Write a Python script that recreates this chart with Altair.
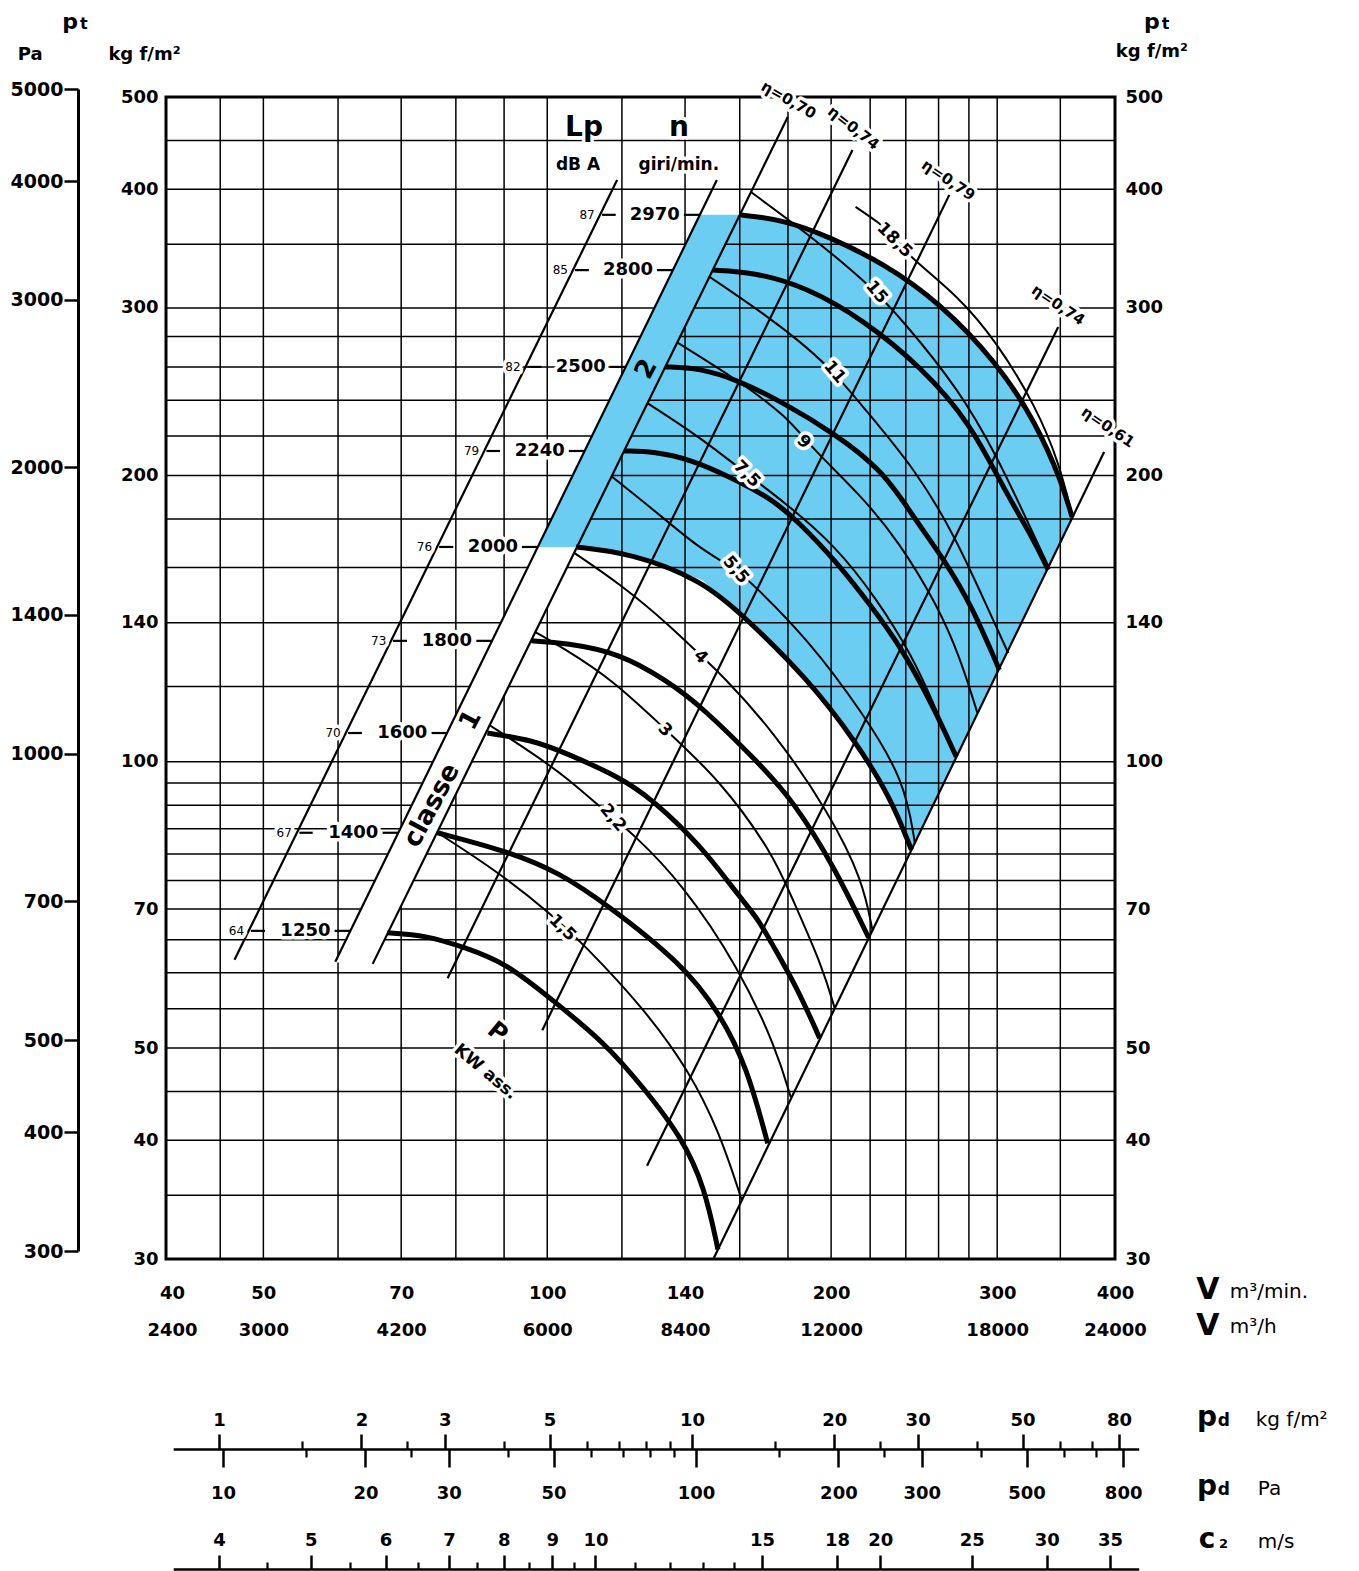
import altair as alt
import pandas as pd

FONT = "DejaVu Sans"
BLUE = "#6BCDF2"

# ---------------- scales / grid / tick values ----------------
V_DOMAIN = [39.42, 400.0]          # m3/min
P_DOMAIN = [30.0, 500.0]           # kgf/m2
V_GRID = [45, 50, 60, 70, 80, 90, 100, 120, 140, 160, 180, 200, 220, 240, 260, 280, 300, 350]
P_GRID = [35, 40, 45, 50, 55, 60, 65, 70, 75, 80, 85, 90, 95, 100, 120, 140, 160, 180,
          200, 220, 240, 260, 280, 300, 350, 400, 450]
V_TICKS = [40, 50, 70, 100, 140, 200, 300, 400]
P_TICKS = [30, 40, 50, 70, 100, 140, 200, 300, 400, 500]
PA_TICKS = [300, 400, 500, 700, 1000, 1400, 2000, 3000, 4000, 5000]
PA_DOMAIN = [300, 5000]
PD_DOMAIN = [0.8, 88.0]            # kgf/m2 dynamic pressure scale
PD_KGF_MAJOR = [1, 2, 3, 5, 10, 20, 30, 50, 80]
PD_KGF_MINOR = [1.5, 2.5, 4, 6, 7, 8, 9, 15, 25, 40, 60, 70]
PD_PA_MAJOR = [10, 20, 30, 50, 100, 200, 300, 500, 800]
PD_PA_MINOR = [15, 25, 40, 60, 70, 80, 90, 150, 250, 400, 600, 700]
C2_MAJOR = [4, 5, 6, 7, 8, 9, 10, 15, 18, 20, 25, 30, 35]
C2_MINOR = [4.5, 5.5, 6.5, 7.5, 8.5, 9.5, 11, 12, 13, 14]

# ---------------- speed curves (n, giri/min) ----------------
N1250_V = [67.7, 74.3, 81.7, 90.5, 101.2, 115.2, 126.3, 138.9, 146.9, 151.7]
N1250_P = [66.1, 65.7, 63.8, 61.4, 56.2, 50.6, 45.5, 40.3, 35.7, 30.7]
N1400_V = [76.5, 92.0, 103.0, 115.2, 138.9, 152.4, 162.8, 171.3]
N1400_P = [84.2, 80.2, 76.4, 71.0, 61.4, 54.4, 47.8, 39.7]
N1600_V = [86.4, 96.4, 104.7, 119.2, 128.8, 145.9, 157.0, 167.6, 172.2, 183.9, 194.5]
N1600_P = [107.2, 105.4, 102.1, 96.4, 91.6, 81.4, 73.8, 68.2, 64.9, 58.0, 51.2]
N1800_V = [96.2, 104.7, 119.2, 133.6, 145.9, 167.6, 182.1, 201.7, 219.2]
N1800_P = [134.0, 133.3, 130.1, 121.9, 114.2, 99.7, 91.1, 77.5, 65.3]
N2000_V = [107.3, 122.4, 145.9, 162.0, 189.3, 211.8, 231.2, 243.3]
N2000_P = [168.2, 165.8, 155.3, 142.0, 121.9, 105.4, 91.8, 80.8]
N2240_V = [120.6, 129.8, 142.4, 156.2, 171.7, 183.0, 203.2, 219.2, 237.4, 256.7, 271.5]
N2240_P = [212.2, 212.0, 207.7, 199.3, 189.8, 180.4, 161.8, 146.9, 132.0, 114.2, 101.2]
N2500_V = [133.3, 145.1, 159.2, 178.2, 201.2, 226.8, 245.7, 263.7, 282.4, 301.6]
N2500_P = [260.1, 259.4, 252.0, 238.4, 221.7, 202.7, 179.6, 163.0, 145.5, 124.9]
N2800_V = [149.8, 165.2, 188.4, 216.5, 249.3, 281.0, 305.3, 326.8, 339.8]
N2800_P = [328.8, 327.3, 315.6, 291.4, 260.1, 227.1, 193.1, 172.3, 159.1]
N2970_V = [160.0, 178.2, 199.2, 226.8, 261.1, 300.1, 330.0, 351.5, 360.2]
N2970_P = [375.9, 371.4, 356.4, 334.6, 303.7, 262.6, 227.1, 196.4, 180.8]

# ---------------- absorbed power curves (kW) ----------------
KW1_5_V = [76.5, 88.7, 101.2, 108.9, 126.3, 141.3, 152.4, 160.8]
KW1_5_P = [84.2, 76.6, 69.0, 64.5, 55.2, 47.4, 40.7, 34.6]
KW2_2_V = [86.8, 96.4, 104.7, 116.3, 123.0, 138.9, 159.6, 175.1, 181.2]
KW2_2_P = [109.3, 102.1, 96.4, 87.9, 84.2, 74.6, 60.8, 49.8, 44.4]
KW3_V = [97.1, 104.0, 117.4, 133.6, 152.4, 173.4, 182.1, 195.9, 201.7]
KW3_P = [136.9, 131.7, 121.9, 108.0, 95.7, 80.2, 71.6, 60.8, 55.1]
KW4_V = [106.8, 120.3, 134.6, 145.9, 152.4, 173.4, 199.2, 216.0, 221.3]
KW4_P = [165.8, 153.0, 139.3, 128.9, 124.0, 108.0, 88.3, 75.1, 66.4]
KW5_5_V = [117.2, 133.6, 144.8, 158.8, 164.8, 189.3, 216.0, 239.2, 245.4]
KW5_5_P = [199.3, 179.6, 167.8, 159.1, 154.1, 134.3, 112.6, 95.7, 82.1]
KW7_5_V = [127.6, 145.1, 159.2, 179.0, 202.2, 222.9, 243.9, 258.6, 271.5]
KW7_5_P = [238.4, 219.5, 204.1, 187.1, 168.6, 149.0, 129.2, 113.4, 100.9]
KW9_V = [137.6, 159.2, 179.9, 190.2, 214.9, 235.7, 259.2, 274.2, 285.8]
KW9_P = [275.7, 252.0, 230.4, 214.3, 190.8, 170.7, 146.2, 128.5, 112.6]
KW11_V = [148.7, 171.7, 188.4, 202.7, 214.9, 246.9, 270.8, 292.1, 308.2]
KW11_P = [323.4, 293.5, 273.0, 255.1, 237.8, 201.7, 172.3, 146.2, 130.1]
KW15_V = [164.4, 188.4, 218.6, 238.1, 273.5, 300.1, 323.6, 340.6]
KW15_P = [397.3, 359.8, 318.7, 291.4, 246.0, 209.2, 178.2, 159.9]
KW18_5_V = [212.3, 225.1, 233.5, 242.1, 273.5, 300.1, 330.0, 349.0, 360.2]
KW18_5_P = [383.2, 368.6, 356.4, 339.4, 308.1, 275.7, 236.1, 206.1, 181.7]

# ---------------- straight scale / efficiency lines (end points) ----------------
LINE_NAMES = ["Lp", "n", "eta070", "eta074a", "eta079", "eta074b", "eta061"]
LINE_V1 = [46.6, 59.6, 65.3, 78.4, 98.8, 127.6, 150.2]
LINE_P1 = [61.9, 61.6, 61.3, 59.2, 52.2, 37.6, 30.07]
LINE_V2 = [118.6, 151.3, 179.9, 210.7, 266.9, 348.2, 389.5]
LINE_P2 = [408.9, 408.9, 476.3, 439.8, 394.5, 286.5, 211.7]

# class strips and shaded class-2 field
STRIP1_V = [59.7, 65.4, 107.5, 97.7]
STRIP1_P = [61.5, 61.5, 168.2, 168.2]
STRIP2_V = [97.7, 107.5, 160.0, 145.1]
STRIP2_P = [168.2, 168.2, 375.9, 375.9]
FIELD_V = [107.5, 122.4, 145.9, 162.0, 189.3, 211.8, 231.2, 243.3,
           360.2, 351.5, 330.0, 300.1, 261.1, 226.8, 199.2, 178.2, 160.0]
FIELD_P = [168.2, 165.8, 155.3, 142.0, 121.9, 105.4, 91.8, 80.8,
           180.8, 196.4, 227.1, 262.6, 303.7, 334.6, 356.4, 371.4, 375.9]

# ---------------- speed / noise scales ----------------
N_SPEEDS = [2970, 2800, 2500, 2240, 2000, 1800, 1600, 1400, 1250]
LP_DBA = [87, 85, 82, 79, 76, 73, 70, 67, 64]
LEVEL_P = [375.9, 328.8, 260.1, 212.2, 168.2, 134.0, 107.2, 84.2, 66.4]
N_LABEL_V = [138.2, 129.5, 115.4, 104.4, 93.1, 83.2, 74.6, 66.2, 58.9]
N_DASH_V1 = [139.6, 130.7, 116.5, 105.4, 94.0, 84.1, 75.4, 66.9, 59.5]
N_DASH_V2 = [145.1, 135.9, 121.1, 109.6, 97.7, 87.4, 78.4, 69.6, 61.9]
LP_LABEL_V = [112.3, 105.2, 93.7, 84.7, 75.5, 67.5, 60.4, 53.6, 47.7]
LP_DASH_V1 = [114.3, 107.0, 95.3, 86.2, 76.8, 68.6, 61.5, 54.6, 48.5]
LP_DASH_V2 = [118.2, 110.7, 98.6, 89.1, 79.5, 71.0, 63.6, 56.4, 50.2]

KW_LABELS = ["1,5", "2,2", "3", "4", "5,5", "7,5", "9", "11", "15", "18,5"]
KW_LAB_V = [103.8, 117.4, 133.3, 145.5, 158.5, 162.8, 187.0, 201.7, 223.5, 233.5]
KW_LAB_P = [66.9, 87.3, 108.0, 128.9, 159.1, 200.7, 216.9, 256.9, 311.7, 353.7]
KW_LAB_A = [45, 50, 45, 45, 50, 45, 45, 50, 50, 45]

ETA_LABELS = ["η=0,70", "η=0,74", "η=0,79", "η=0,74", "η=0,61"]
ETA_LAB_V = [180.3, 211.3, 266.3, 348.2, 393.2]
ETA_LAB_P = [496.5, 463.9, 408.9, 302.2, 224.9]
ETA_LAB_A = [30, 38, 34, 34, 34]

HEAD_T = ["Lp", "dB A", "n", "giri/min.", "P", "KW ass."]
HEAD_V = [109.4, 107.8, 137.9, 137.9, 88.5, 86.0]
HEAD_P = [463.9, 424.2, 463.9, 424.2, 51.9, 47.2]
HEAD_S = [28, 17, 28, 17, 24, 17]
HEAD_A = [0, 0, 0, 0, 40, 40]

CLASS_T = ["classe", "1", "2"]
CLASS_V = [75.4, 82.9, 127.3]
CLASS_P = [90.0, 110.6, 258.8]

# outer titles: text, V, p, size, align, baseline, weight
TITLE_T = ["p", "t", "Pa", "kg f/m²", "p", "t", "kg f/m²",
           "V", "m³/min.", "V", "m³/h",
           "p", "d", "kg f/m²", "p", "d", "Pa", "c", "2", "m/s"]
TITLE_V = [31.2, 31.96, 28.3, 37.4, 437.7, 448.5, 437.7,
           501.7, 529.3, 501.7, 529.3,
           500.9, 514.0, 564.0, 500.9, 514.0, 566.8, 500.9, 515.5, 566.8]
TITLE_P = [589.2, 589.2, 553.6, 553.6, 589.2, 589.2, 557.7,
           27.83, 27.70, 25.51, 25.45,
           20.02, 20.02, 20.02, 16.94, 16.94, 16.94, 14.90, 14.90, 14.90]
TITLE_S = [22, 16, 18, 18, 22, 16, 18,
           30, 20, 30, 20,
           28, 17, 20, 28, 17, 20, 28, 13, 20]
TITLE_AL = ["center", "left", "center", "center", "center", "left", "center",
            "center", "left", "center", "left",
            "center", "left", "left", "center", "left", "left", "center", "left", "left"]
TITLE_BL = ["alphabetic", "alphabetic", "middle", "middle", "alphabetic", "alphabetic", "middle",
            "middle", "middle", "middle", "middle",
            "alphabetic", "alphabetic", "alphabetic", "alphabetic", "alphabetic", "alphabetic",
            "alphabetic", "alphabetic", "alphabetic"]
TITLE_W = ["bold", "bold", "bold", "bold", "bold", "bold", "bold",
           "bold", "normal", "bold", "normal",
           "bold", "bold", "normal", "bold", "bold", "normal", "bold", "bold", "normal"]

# ======================================================================
XS = alt.Scale(type="log", domain=V_DOMAIN, nice=False)
YS = alt.Scale(type="log", domain=P_DOMAIN, nice=False)


def xy(xf="V", yf="p"):
    return dict(x=alt.X(f"{xf}:Q", scale=XS, axis=None),
                y=alt.Y(f"{yf}:Q", scale=YS, axis=None))


def long_df(curves):
    rows = []
    for name, (vs, ps) in curves.items():
        for i, (v, p) in enumerate(zip(vs, ps)):
            rows.append({"c": name, "i": i, "V": v, "p": p})
    return pd.DataFrame(rows)


def polygon(vs, ps, fill):
    df = pd.DataFrame({"V": vs, "p": ps, "i": list(range(len(vs)))})
    return alt.Chart(df).mark_line(fill=fill, stroke="transparent", interpolate="linear").encode(
        **xy(), order="i:Q")


speed = {"1250": (N1250_V, N1250_P), "1400": (N1400_V, N1400_P), "1600": (N1600_V, N1600_P),
         "1800": (N1800_V, N1800_P), "2000": (N2000_V, N2000_P), "2240": (N2240_V, N2240_P),
         "2500": (N2500_V, N2500_P), "2800": (N2800_V, N2800_P), "2970": (N2970_V, N2970_P)}
power = {"1,5": (KW1_5_V, KW1_5_P), "2,2": (KW2_2_V, KW2_2_P), "3": (KW3_V, KW3_P),
         "4": (KW4_V, KW4_P), "5,5": (KW5_5_V, KW5_5_P), "7,5": (KW7_5_V, KW7_5_P),
         "9": (KW9_V, KW9_P), "11": (KW11_V, KW11_P), "15": (KW15_V, KW15_P),
         "18,5": (KW18_5_V, KW18_5_P)}
straight = {nm: ([a, b], [c, d]) for nm, a, c, b, d in zip(LINE_NAMES, LINE_V1, LINE_P1, LINE_V2, LINE_P2)}

field_layer = polygon(FIELD_V, FIELD_P, BLUE)
vgrid = alt.Chart(pd.DataFrame({"V": V_GRID})).mark_rule(color="black", strokeWidth=1.5).encode(
    x=alt.X("V:Q", scale=XS, axis=None))
hgrid = alt.Chart(pd.DataFrame({"p": P_GRID})).mark_rule(color="black", strokeWidth=1.5).encode(
    y=alt.Y("p:Q", scale=YS, axis=None))
strip1 = polygon(STRIP1_V, STRIP1_P, "white")
strip2 = polygon(STRIP2_V, STRIP2_P, BLUE)

lines_layer = alt.Chart(long_df(straight)).mark_line(color="black", strokeWidth=2.2).encode(
    **xy(), detail="c:N", order="i:Q")
power_layer = alt.Chart(long_df(power)).mark_line(color="black", strokeWidth=2.0, interpolate="basis").encode(
    **xy(), detail="c:N", order="i:Q")
speed_layer = alt.Chart(long_df(speed)).mark_line(color="black", strokeWidth=5, interpolate="basis").encode(
    **xy(), detail="c:N", order="i:Q")

dash_df = pd.DataFrame({"V1": N_DASH_V1 + LP_DASH_V1, "V2": N_DASH_V2 + LP_DASH_V2,
                        "p": LEVEL_P + LEVEL_P})
dash_layer = alt.Chart(dash_df).mark_rule(color="black", strokeWidth=2.2).encode(
    x=alt.X("V1:Q", scale=XS, axis=None), x2="V2:Q", y=alt.Y("p:Q", scale=YS, axis=None))

# ---- text table ----
rows = []
for n, v, p in zip(N_SPEEDS, N_LABEL_V, LEVEL_P):
    rows.append((str(n), v, p, 18, 0, "right", "middle", "bold", True))
for lp, v, p in zip(LP_DBA, LP_LABEL_V, LEVEL_P):
    rows.append((str(lp), v, p, 12, 0, "right", "middle", "normal", True))
for t, v, p, a in zip(KW_LABELS, KW_LAB_V, KW_LAB_P, KW_LAB_A):
    rows.append((t, v, p, 17, a, "center", "middle", "bold", True))
for t, v, p, a in zip(ETA_LABELS, ETA_LAB_V, ETA_LAB_P, ETA_LAB_A):
    rows.append((t, v, p, 15, a, "center", "middle", "bold", True))
for t, v, p, s, a in zip(HEAD_T, HEAD_V, HEAD_P, HEAD_S, HEAD_A):
    rows.append((t, v, p, s, a, "center", "middle", "bold", True))
for t, v, p in zip(CLASS_T, CLASS_V, CLASS_P):
    rows.append((t, v, p, 26, 298, "center", "middle", "bold", False))
for t, v, p, s, al, bl, w in zip(TITLE_T, TITLE_V, TITLE_P, TITLE_S, TITLE_AL, TITLE_BL, TITLE_W):
    rows.append((t, v, p, s, 0, al, bl, w, False))
tdf = pd.DataFrame(rows, columns=["t", "V", "p", "s", "a", "al", "bl", "w", "halo"])

halo_layers, text_layers = [], []
for (al, bl, w, halo), g in tdf.groupby(["al", "bl", "w", "halo"], sort=False):
    base = alt.Chart(g.drop(columns=["al", "bl", "w", "halo"])).encode(
        **xy(), text="t:N",
        size=alt.Size("s:Q", scale=None, legend=None),
        angle=alt.Angle("a:Q", scale=None, legend=None))
    if halo:
        halo_layers.append(base.mark_text(align=al, baseline=bl, font=FONT, fontWeight=w,
                                          color="white", stroke="white", strokeWidth=7,
                                          strokeJoin="round"))
    text_layers.append(base.mark_text(align=al, baseline=bl, font=FONT, fontWeight=w, color="black"))

main = alt.layer(field_layer, vgrid, hgrid, strip1, strip2, lines_layer, power_layer,
                 speed_layer, *halo_layers, dash_layer, *text_layers)

# ---------------- axes ----------------
AX = dict(title=None, grid=False, labelFont=FONT, labelFontSize=18, labelFontWeight="bold",
          labelColor="black", labelOverlap=False, labelFlush=False, labelBound=False,
          tickColor="black", domainColor="black")


def x_axis(val, scale, **kw):
    return alt.Chart(pd.DataFrame({"v": [val]})).mark_point(opacity=0).encode(
        x=alt.X("v:Q", scale=scale, axis=alt.Axis(**{**AX, **kw})))


def y_axis(val, scale, **kw):
    return alt.Chart(pd.DataFrame({"v": [val]})).mark_point(opacity=0).encode(
        y=alt.Y("v:Q", scale=scale, axis=alt.Axis(**{**AX, **kw})))


FMT = "format(datum.value, '.0f')"
kgf_left = y_axis(100, alt.Scale(type="log", domain=P_DOMAIN, nice=False), orient="left",
                  values=P_TICKS, labelExpr=FMT, ticks=False, tickSize=0, domain=False, labelPadding=8)
kgf_right = y_axis(100, alt.Scale(type="log", domain=P_DOMAIN, nice=False), orient="right",
                   values=P_TICKS, labelExpr=FMT, ticks=False, tickSize=0, domain=False, labelPadding=10)
pa_left = y_axis(1000, alt.Scale(type="log", domain=PA_DOMAIN, range=[1154, -8], nice=False),
                 orient="left", offset=88, values=PA_TICKS, labelExpr=FMT, tickSize=14, tickWidth=2.5,
                 domain=True, domainWidth=3, labelPadding=1, labelFontSize=19)
v_bottom = x_axis(100, alt.Scale(type="log", domain=V_DOMAIN, nice=False), orient="bottom",
                  values=V_TICKS,
                  labelExpr="[format(datum.value, '.0f'), format(datum.value * 60, '.0f')]",
                  ticks=False, tickSize=0, domain=False, labelPadding=25, labelLineHeight=37,
                  labelBaseline="top")

PD_RANGE = [7.2, 972.7]
pa_dom = [d * 9.80665 for d in PD_DOMAIN]
c2_dom = [(16 * d) ** 0.5 for d in PD_DOMAIN]
pdk_scale = alt.Scale(type="log", domain=PD_DOMAIN, range=PD_RANGE, nice=False)
pdp_scale = alt.Scale(type="log", domain=pa_dom, range=PD_RANGE, nice=False)
c2_scale = alt.Scale(type="log", domain=c2_dom, range=PD_RANGE, nice=False)

pdk_major = x_axis(5, pdk_scale, orient="top", offset=-1352, values=PD_KGF_MAJOR, labelExpr=FMT,
                   tickSize=15, tickWidth=2.5, domain=True, domainWidth=2.5, labelPadding=5)
pdk_minor = x_axis(5, pdk_scale, orient="top", offset=-1352, values=PD_KGF_MINOR, labels=False,
                   tickSize=8, tickWidth=2.2, domain=False)
pdp_major = x_axis(50, pdp_scale, orient="bottom", offset=190, values=PD_PA_MAJOR, labelExpr=FMT,
                   tickSize=18, tickWidth=2.5, domain=False, labelPadding=17)
pdp_minor = x_axis(50, pdp_scale, orient="bottom", offset=190, values=PD_PA_MINOR, labels=False,
                   tickSize=8, tickWidth=2.2, domain=False)
c2_major = x_axis(10, c2_scale, orient="top", offset=-1472, values=C2_MAJOR, labelExpr=FMT,
                  tickSize=14, tickWidth=2.5, domain=True, domainWidth=2.5, labelPadding=6)
c2_minor = x_axis(10, c2_scale, orient="top", offset=-1472, values=C2_MINOR, labels=False,
                  tickSize=7, tickWidth=2.2, domain=False)

chart = alt.layer(main, kgf_left, kgf_right, pa_left, v_bottom,
                  pdk_major, pdk_minor, pdp_major, pdp_minor, c2_major, c2_minor
                  ).resolve_scale(x="independent", y="independent").properties(
    width=949, height=1162,
    autosize=alt.AutoSizeParams(type="none"),
    padding={"left": 158, "top": 89, "right": 236, "bottom": 312},
    background="white",
).configure_view(stroke="black", strokeWidth=3)

chart.save("out.html", embed_options={"renderer": "svg", "actions": False})
